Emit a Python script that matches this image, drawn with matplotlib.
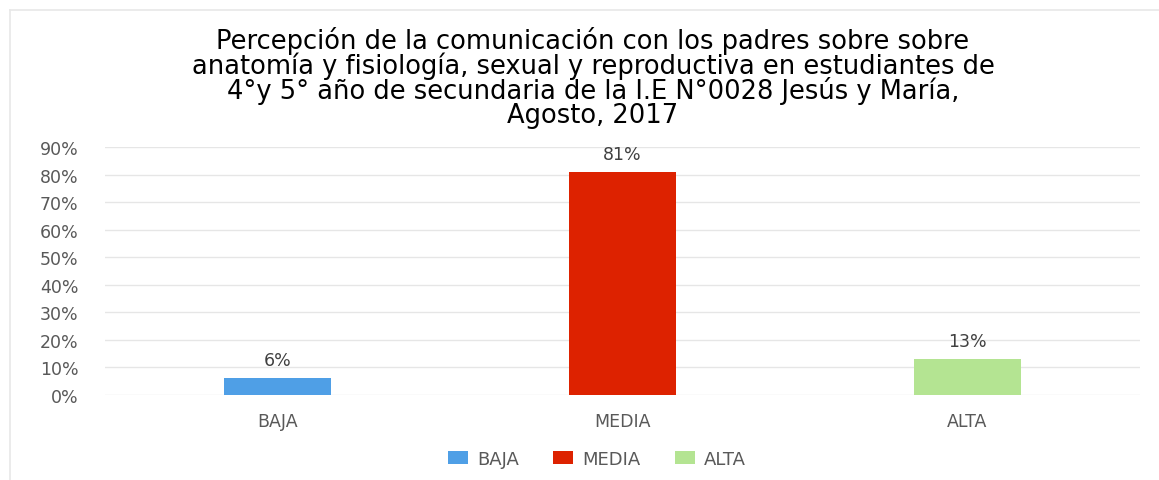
import numpy as np
import matplotlib
matplotlib.use("Agg")
from matplotlib import pyplot as plt
from matplotlib.lines import Line2D
from matplotlib.patches import Patch

# Data
categories = ["BAJA", "MEDIA", "ALTA"]
values = [0.06, 0.81, 0.13]
labels = ["6%", "81%", "13%"]
colors = ["#4f9fe6", "#dd2200", "#b4e492"]
yticks = [0.0, 0.1, 0.2, 0.3, 0.4, 0.5, 0.6, 0.7, 0.8, 0.9]

title = ("Percepción de la comunicación con los padres sobre sobre\n"
         "anatomía y fisiología, sexual y reproductiva en estudiantes de\n"
         "4°y 5° año de secundaria de la I.E N°0028 Jesús y María,\n"
         "Agosto, 2017")

fig = plt.figure(figsize=(11.59, 4.81), dpi=100)
ax = fig.add_axes([105 / 1159, 1 - 396 / 481, (1140 - 105) / 1159, (396 - 148) / 481])

x = np.arange(len(categories))
ax.bar(x, values, width=0.31, color=colors, zorder=3)

for xi, v, lab in zip(x, values, labels):
    ax.text(xi, v + 0.033, lab, ha="center", va="bottom",
            fontsize=12.5, color="#404040", family="DejaVu Sans")

ax.set_xlim(-0.5, 2.5)
ax.set_ylim(0, 0.9)
ax.set_yticks(yticks)
ax.set_yticklabels(["%d%%" % round(t * 100) for t in yticks])
ax.set_xticks(x)
ax.set_xticklabels(categories)
ax.tick_params(axis="both", length=0, labelsize=12.5, labelcolor="#595959")
ax.tick_params(axis="y", pad=19)
ax.tick_params(axis="x", pad=12)
ax.grid(axis="y", color="#e6e6e6", linewidth=1, zorder=0)
for s in ax.spines.values():
    s.set_visible(False)

fig.text(593 / 1159, 1 - 78 / 481, title, ha="center", va="center",
         fontsize=18.5, family="DejaVu Sans", color="#000000",
         linespacing=0.89)

handles = [Patch(facecolor=c) for c in colors]
fig.legend(handles, categories, loc="center", bbox_to_anchor=(597 / 1159, 1 - 460 / 481),
           ncol=3, frameon=False, fontsize=13, labelcolor="#595959",
           handlelength=1.1, handleheight=0.7, handletextpad=0.5, columnspacing=1.9)

# faint chart-area border on the top and left
fig.add_artist(Line2D([10 / 1159, 10 / 1159], [0, 1 - 11 / 481], transform=fig.transFigure,
                      color="#e8e8e8", linewidth=1.2))
fig.add_artist(Line2D([10 / 1159, 1], [1 - 11 / 481, 1 - 11 / 481], transform=fig.transFigure,
                      color="#e8e8e8", linewidth=1.2))

fig.savefig("out.png", dpi=100)
